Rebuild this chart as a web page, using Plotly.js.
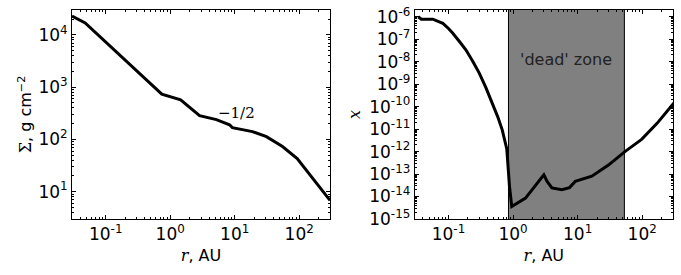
<!DOCTYPE html>
<html>
<head>
<meta charset="utf-8">
<script src="https://cdn.plot.ly/plotly-3.0.1.min.js"></script>
<style>body{margin:0;padding:0;background:#fff}#chart{width:681px;height:275px}</style>
</head>
<body>
<div id="chart"></div>
<script>
// Left panel: surface density Sigma(r)
const rSigma = [0.03, 0.048, 0.74, 1.45, 2.85, 5.2, 8.3, 9.2, 18.8, 31, 55, 93, 300];
const sigma  = [23000, 17000, 735, 575, 285, 239, 191, 168, 141, 113, 73, 43, 6.8];

// Right panel: ionisation fraction x(r)
const rIon = [0.034, 0.038, 0.057, 0.07, 0.082, 0.1, 0.116, 0.15, 0.187, 0.24, 0.30, 0.38, 0.48, 0.58, 0.68, 0.76, 0.80, 0.82, 0.88, 0.955, 1.56, 3.0, 3.37, 4.0, 5.7, 7.5, 8.2, 9.2, 16.6, 30, 54, 98, 170, 310];
const xIon = [1.0e-6, 7.8e-7, 7.8e-7, 6.3e-7, 5.1e-7, 3.0e-7, 1.9e-7, 7.5e-8, 3.3e-8, 1.0e-8, 3.1e-9, 7.0e-10, 1.45e-10, 3.5e-11, 9.3e-12, 2.8e-12, 1.3e-12, 5.0e-13, 3.0e-14, 3.6e-15, 8.5e-15, 9.3e-14, 4.7e-14, 2.4e-14, 2.0e-14, 2.5e-14, 3.2e-14, 4.7e-14, 8.0e-14, 2.5e-13, 1.0e-12, 3.5e-12, 1.8e-11, 1.45e-10];

// Dead zone bounds (AU)
const deadZone = [0.85, 53];

// Tick labels
const xTickVals = [0.1, 1, 10, 100];
const xTickText = ['10<sup>-1</sup>', '10<sup>0</sup>', '10<sup>1</sup>', '10<sup>2</sup>'];
const y1TickVals = [10, 100, 1000, 10000];
const y1TickText = ['10<sup>1</sup>', '10<sup>2</sup>', '10<sup>3</sup>', '10<sup>4</sup>'];
const y2TickVals = [1e-15, 1e-14, 1e-13, 1e-12, 1e-11, 1e-10, 1e-9, 1e-8, 1e-7, 1e-6];
const y2TickText = ['10<sup>-15</sup>', '10<sup>-14</sup>', '10<sup>-13</sup>', '10<sup>-12</sup>', '10<sup>-11</sup>', '10<sup>-10</sup>', '10<sup>-9</sup>', '10<sup>-8</sup>', '10<sup>-7</sup>', '10<sup>-6</sup>'];

const traces = [
  {
    x: [deadZone[0], deadZone[0], deadZone[1], deadZone[1], deadZone[0]],
    y: [1e-17, 1e-4, 1e-4, 1e-17, 1e-17],
    xaxis: 'x2', yaxis: 'y2', mode: 'lines', fill: 'toself',
    fillcolor: '#808080', line: {color: '#000', width: 1},
    hoverinfo: 'skip', showlegend: false
  },
  {
    x: rSigma, y: sigma, xaxis: 'x', yaxis: 'y', mode: 'lines',
    line: {color: '#000', width: 3}, showlegend: false
  },
  {
    x: rIon, y: xIon, xaxis: 'x2', yaxis: 'y2', mode: 'lines',
    line: {color: '#000', width: 3}, showlegend: false
  }
];

const xr = [Math.log10(0.03), Math.log10(300)];
const tickFont = {family: 'DejaVu Sans', size: 17, color: '#000'};
const minorDef = {ticks: 'inside', ticklen: 2, tickcolor: '#000', tickwidth: 1, dtick: 'D1', showgrid: false};

function xaxisDef(domain, anchor) {
  return {
    type: 'log', domain: domain, anchor: anchor, range: xr,
    tickvals: xTickVals, ticktext: xTickText,
    ticks: 'inside', ticklen: 4, tickcolor: '#000', tickwidth: 1,
    mirror: 'allticks', showline: true, linecolor: '#000', linewidth: 1,
    showgrid: false, zeroline: false, tickfont: tickFont,
    minor: minorDef,
    title: {text: '<span style="font-family:\'DejaVu Serif\';font-style:italic">r</span>, AU', font: {family: 'DejaVu Sans', size: 16, color: '#000'}, standoff: 6}
  };
}

const layout = {
  width: 681, height: 275,
  margin: {l: 72, r: 8, t: 10, b: 56},
  paper_bgcolor: '#fff', plot_bgcolor: '#fff',
  showlegend: false,
  xaxis: xaxisDef([0, 0.4293], 'y'),
  xaxis2: xaxisDef([0.5702, 1], 'y2'),
  yaxis: {
    type: 'log', domain: [0, 1], anchor: 'x', range: [Math.log10(3), Math.log10(30000)],
    tickvals: y1TickVals, ticktext: y1TickText,
    ticks: 'inside', ticklen: 4, tickcolor: '#000', tickwidth: 1,
    mirror: 'allticks', showline: true, linecolor: '#000', linewidth: 1,
    showgrid: false, zeroline: false, tickfont: tickFont, minor: minorDef,
    title: {text: '<span style="font-family:\'DejaVu Serif\'">Σ</span>, g cm<sup>−2</sup>', font: {family: 'DejaVu Sans', size: 16, color: '#000'}, standoff: 2}
  },
  yaxis2: {
    type: 'log', domain: [0, 1], anchor: 'x2', range: [-15, -5.7],
    tickvals: y2TickVals, ticktext: y2TickText,
    ticks: 'inside', ticklen: 4, tickcolor: '#000', tickwidth: 1,
    mirror: 'allticks', showline: true, linecolor: '#000', linewidth: 1,
    showgrid: false, zeroline: false, tickfont: tickFont, minor: minorDef,
    title: {text: 'x', font: {family: 'DejaVu Serif', style: 'italic', size: 16, color: '#000'}, standoff: 4}
  },
  annotations: [
    {
      x: Math.log10(10.8), y: Math.log10(324), xref: 'x', yref: 'y',
      text: '−1/2', showarrow: false,
      font: {family: 'DejaVu Serif', size: 15, color: '#000'}
    },
    {
      x: Math.log10(Math.sqrt(deadZone[0] * deadZone[1])), y: Math.log10(1.2e-8), xref: 'x2', yref: 'y2',
      text: "'dead' zone", showarrow: false,
      font: {family: 'DejaVu Sans', size: 16, color: '#222'}
    }
  ]
};

Plotly.newPlot('chart', traces, layout, {displayModeBar: false, staticPlot: true});
</script>
</body>
</html>
